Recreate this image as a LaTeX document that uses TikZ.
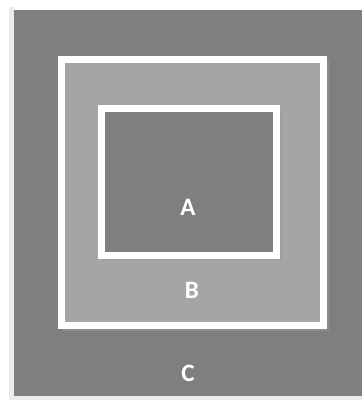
\documentclass[tikz,border=0pt]{standalone}
\usepackage{fontspec}
\setmainfont{Carlito}
\definecolor{darkg}{HTML}{7F7F7F}
\definecolor{lightg}{HTML}{A5A5A5}
\tikzset{
  lbl/.style={text=white,font=\bfseries\fontsize{25}{26}\selectfont,inner sep=0pt},
  frame/.style={draw=white,line width=7pt}
}
\begin{document}
\begin{tikzpicture}[x=1pt,y=-1pt]
\useasboundingbox (0,0) rectangle (363,403);
\fill[white] (0,0) rectangle (363,403);
\fill[black!8] (9,7) rectangle (14,400);
\fill[black!8] (9,396) rectangle (362,400);
\fill[darkg] (14,10) rectangle (362,396);
\node[lbl] (C) at (188,373) {C};
% B
\fill[black!40,opacity=0.5] (63,61) rectangle (329,331);
\draw[frame,fill=lightg] (61.5,59.5) rectangle (323.5,325.5);
\node[lbl] (B) at (192,290) {B};
% A
\fill[black!40,opacity=0.5] (103,110) rectangle (282,260);
\draw[frame,fill=darkg] (101.5,108.5) rectangle (276.5,255.5);
\node[lbl] (A) at (188,207) {A};
\end{tikzpicture}
\end{document}
